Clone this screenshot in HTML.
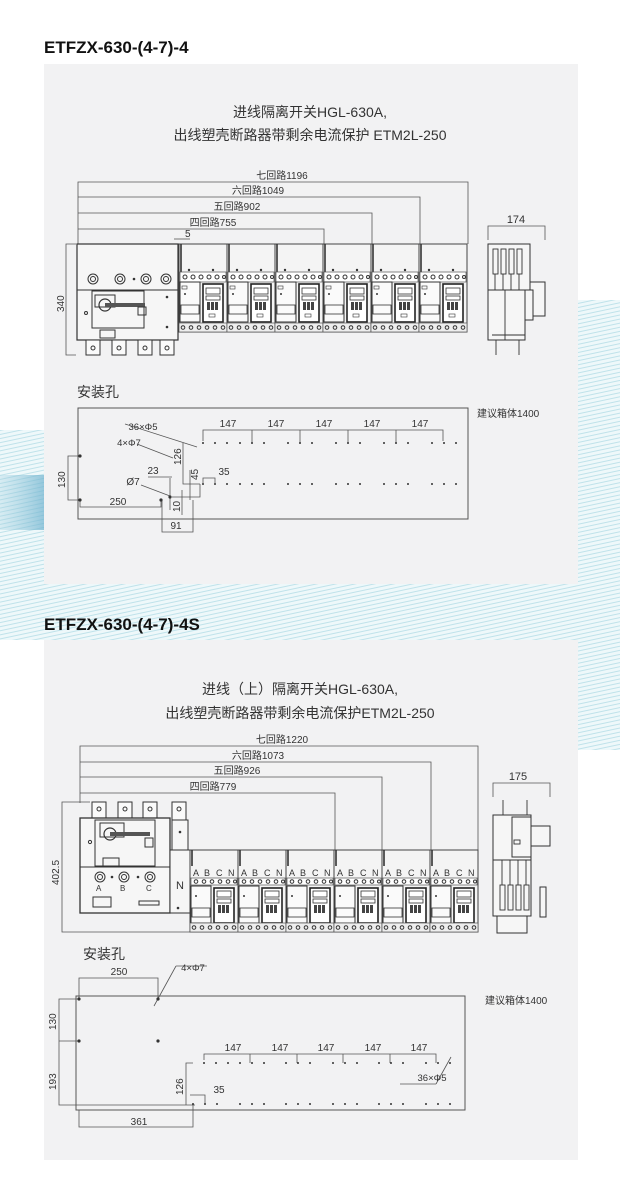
<!DOCTYPE html>
<html><head><meta charset="utf-8">
<style>
html,body{margin:0;padding:0;background:#fff;}
svg{display:block}
text{font-family:"Liberation Sans","Noto Sans CJK SC",sans-serif;fill:#333}
</style></head><body>
<svg width="620" height="1198" viewBox="0 0 620 1198" xmlns="http://www.w3.org/2000/svg">
<defs>
<linearGradient id="lb" x1="0" y1="0" x2="1" y2="0">
<stop offset="0" stop-color="#9fcfe0" stop-opacity="0.3"/><stop offset="1" stop-color="#6fb3cf" stop-opacity="0.7"/>
</linearGradient>
<pattern id="ln" width="6" height="4" patternUnits="userSpaceOnUse" patternTransform="rotate(-12)">
<rect width="6" height="4" fill="#eef8fa"/><line x1="0" y1="1" x2="6" y2="1" stroke="#bfe2ea" stroke-width="1"/>
</pattern>
<g id="m1">
<rect x="0" y="0" width="48" height="88" fill="#f4f4f4" stroke="#444" stroke-width="1"/>
<line x1="2" y1="0" x2="2" y2="28" stroke="#333" stroke-width="1.6"/>
<rect x="1" y="28" width="46" height="10" fill="#fff" stroke="#555" stroke-width="0.7"/>
<circle cx="6" cy="33" r="2" fill="none" stroke="#333"/><circle cx="14" cy="33" r="2" fill="none" stroke="#333"/><circle cx="22" cy="33" r="2" fill="none" stroke="#333"/><circle cx="30" cy="33" r="2" fill="none" stroke="#333"/><circle cx="38" cy="33" r="2" fill="none" stroke="#333"/><circle cx="45" cy="33" r="1.5" fill="none" stroke="#333"/>
<circle cx="10" cy="26" r="1.2" fill="#333"/><circle cx="34" cy="26" r="1.2" fill="#333"/>
<rect x="1" y="38" width="20" height="40" fill="#fafafa" stroke="#333" stroke-width="1"/>
<rect x="3" y="42" width="5" height="3" fill="none" stroke="#333" stroke-width="0.6"/>
<circle cx="6" cy="50" r="1" fill="#333"/>
<rect x="2" y="61" width="18" height="9" fill="none" stroke="#333" stroke-width="0.8"/>
<rect x="24" y="40" width="20" height="38" fill="#fff" stroke="#222" stroke-width="1.6"/>
<rect x="27" y="44" width="14" height="6" fill="none" stroke="#333" stroke-width="0.8"/>
<rect x="27" y="52" width="14" height="4" fill="none" stroke="#333" stroke-width="0.8"/>
<rect x="28" y="58" width="3" height="8" fill="#444"/><rect x="32" y="58" width="3" height="8" fill="#444"/><rect x="36" y="58" width="3" height="8" fill="#444"/>
<rect x="30" y="70" width="6" height="3" fill="none" stroke="#333" stroke-width="0.6"/>
<rect x="0" y="79" width="48" height="9" fill="#eee" stroke="#555" stroke-width="0.7"/>
<circle cx="4" cy="83.5" r="1.8" fill="none" stroke="#333"/><circle cx="12" cy="83.5" r="1.8" fill="none" stroke="#333"/><circle cx="20" cy="83.5" r="1.8" fill="none" stroke="#333"/><circle cx="28" cy="83.5" r="1.8" fill="none" stroke="#333"/><circle cx="36" cy="83.5" r="1.8" fill="none" stroke="#333"/><circle cx="44" cy="83.5" r="1.8" fill="none" stroke="#333"/>
</g>
<g id="m2">
<rect x="0" y="0" width="48" height="82" fill="#f4f4f4" stroke="#444" stroke-width="1"/>
<line x1="2" y1="0" x2="2" y2="16" stroke="#333" stroke-width="1.6"/>
<text x="3" y="26" font-size="9">A</text><text x="14" y="26" font-size="9">B</text><text x="26" y="26" font-size="9">C</text><text x="38" y="26" font-size="9">N</text>
<rect x="1" y="28" width="46" height="7" fill="#fff" stroke="#555" stroke-width="0.7"/>
<circle cx="6" cy="31.5" r="1.8" fill="none" stroke="#333"/><circle cx="14" cy="31.5" r="1.8" fill="none" stroke="#333"/><circle cx="22" cy="31.5" r="1.8" fill="none" stroke="#333"/><circle cx="30" cy="31.5" r="1.8" fill="none" stroke="#333"/><circle cx="38" cy="31.5" r="1.8" fill="none" stroke="#333"/><circle cx="45" cy="31.5" r="1.5" fill="none" stroke="#333"/>
<rect x="1" y="36" width="20" height="37" fill="#fafafa" stroke="#333" stroke-width="1"/>
<circle cx="6" cy="46" r="1" fill="#333"/>
<rect x="2" y="58" width="18" height="9" fill="none" stroke="#333" stroke-width="0.8"/>
<rect x="24" y="38" width="20" height="35" fill="#fff" stroke="#222" stroke-width="1.6"/>
<rect x="27" y="41" width="14" height="6" fill="none" stroke="#333" stroke-width="0.8"/>
<rect x="27" y="49" width="14" height="4" fill="none" stroke="#333" stroke-width="0.8"/>
<rect x="28" y="55" width="3" height="8" fill="#444"/><rect x="32" y="55" width="3" height="8" fill="#444"/><rect x="36" y="55" width="3" height="8" fill="#444"/>
<rect x="0" y="73" width="48" height="9" fill="#eee" stroke="#555" stroke-width="0.7"/>
<circle cx="4" cy="77.5" r="1.8" fill="none" stroke="#333"/><circle cx="12" cy="77.5" r="1.8" fill="none" stroke="#333"/><circle cx="20" cy="77.5" r="1.8" fill="none" stroke="#333"/><circle cx="28" cy="77.5" r="1.8" fill="none" stroke="#333"/><circle cx="36" cy="77.5" r="1.8" fill="none" stroke="#333"/><circle cx="44" cy="77.5" r="1.8" fill="none" stroke="#333"/>
</g>
<g id="dots">
<circle cx="0" cy="0" r="1" fill="#333"/><circle cx="12" cy="0" r="1" fill="#333"/><circle cx="24" cy="0" r="1" fill="#333"/>
</g>
</defs>

<!-- background waves -->
<rect x="0" y="430" width="44" height="190" fill="url(#ln)"/>
<rect x="0" y="475" width="44" height="55" fill="url(#lb)"/>
<rect x="578" y="300" width="42" height="450" fill="url(#ln)"/>
<rect x="0" y="584" width="620" height="56" fill="url(#ln)"/>

<!-- panels -->
<rect x="44" y="64" width="534" height="520" fill="#f2f2f3"/>
<rect x="44" y="640" width="534" height="520" fill="#f2f2f3"/>

<!-- titles -->
<text x="44" y="53" font-size="17" font-weight="bold" style="fill:#111">ETFZX-630-(4-7)-4</text>
<text x="44" y="630" font-size="17" font-weight="bold" style="fill:#111">ETFZX-630-(4-7)-4S</text>

<text x="310" y="117" font-size="14" text-anchor="middle">进线隔离开关HGL-630A,</text>
<text x="310" y="140" font-size="14" text-anchor="middle">出线塑壳断路器带剩余电流保护 ETM2L-250</text>

<text x="300" y="694" font-size="14" text-anchor="middle">进线（上）隔离开关HGL-630A,</text>
<text x="300" y="718" font-size="14" text-anchor="middle">出线塑壳断路器带剩余电流保护ETM2L-250</text>

<!-- ===== Diagram 1 ===== -->
<g stroke="#555" stroke-width="0.8" fill="none">
<polyline points="78,244 78,182 468,182 468,244"/>
<polyline points="78,197 420,197 420,244"/>
<polyline points="78,213 372,213 372,244"/>
<polyline points="78,229 324,229 324,244"/>
<polyline points="76,244 66,244 66,355 76,355"/>
<polyline points="488,240 488,226 545,226 545,240"/>
<line x1="174" y1="239" x2="190" y2="239"/>
</g>
<g font-size="10" text-anchor="middle">
<text x="282" y="179">七回路1196</text>
<text x="258" y="194">六回路1049</text>
<text x="237" y="210">五回路902</text>
<text x="213" y="226">四回路755</text>
<text x="185" y="237" text-anchor="start">5</text>
<text x="516" y="223" font-size="11">174</text>
</g>
<text x="0" y="0" font-size="10" transform="translate(64,312) rotate(-90)">340</text>

<!-- switch 1 -->
<rect x="77" y="244" width="101" height="96" fill="#f6f6f6" stroke="#333" stroke-width="1.2"/>
<line x1="77" y1="290" x2="178" y2="290" stroke="#333"/>
<circle cx="93" cy="279" r="5" fill="none" stroke="#333"/><circle cx="93" cy="279" r="2.5" fill="none" stroke="#333"/>
<circle cx="120" cy="279" r="5" fill="none" stroke="#333"/><circle cx="120" cy="279" r="2.5" fill="none" stroke="#333"/>
<circle cx="146" cy="279" r="5" fill="none" stroke="#333"/><circle cx="146" cy="279" r="2.5" fill="none" stroke="#333"/>
<circle cx="166" cy="279" r="5" fill="none" stroke="#333"/><circle cx="166" cy="279" r="2.5" fill="none" stroke="#333"/>
<circle cx="134" cy="279" r="1.3" fill="#333"/>
<rect x="92" y="291" width="52" height="37" fill="none" stroke="#333"/>
<rect x="95" y="295" width="20" height="12" fill="none" stroke="#333"/>
<circle cx="105" cy="305" r="6" fill="none" stroke="#333" stroke-width="1.2"/>
<rect x="105" y="303" width="40" height="4" fill="#555"/>
<rect x="138" y="307" width="8" height="8" fill="none" stroke="#333"/>
<rect x="100" y="330" width="15" height="8" fill="none" stroke="#333"/>
<circle cx="167" cy="297" r="1.3" fill="#333"/><circle cx="167" cy="327" r="1.3" fill="#333"/>
<circle cx="86" cy="313" r="1.5" fill="none" stroke="#333"/>
<g fill="#fafafa" stroke="#333">
<rect x="86" y="340" width="14" height="15"/><rect x="112" y="340" width="14" height="15"/><rect x="138" y="340" width="14" height="15"/><rect x="160" y="340" width="14" height="15"/>
</g>
<g fill="none" stroke="#333"><circle cx="93" cy="348" r="2"/><circle cx="119" cy="348" r="2"/><circle cx="145" cy="348" r="2"/><circle cx="167" cy="348" r="2"/></g>
<!-- modules 1 -->
<use href="#m1" x="179" y="244"/><use href="#m1" x="227" y="244"/><use href="#m1" x="275" y="244"/>
<use href="#m1" x="323" y="244"/><use href="#m1" x="371" y="244"/><use href="#m1" x="419" y="244"/>
<!-- side view 1 -->
<g fill="#f6f6f6" stroke="#333">
<rect x="488" y="244" width="42" height="46"/>
<rect x="488" y="290" width="37" height="50"/>
<rect x="530" y="282" width="15" height="34"/>
<rect x="525" y="290" width="8" height="30"/>
</g>
<g fill="none" stroke="#333" stroke-width="0.9">
<rect x="493" y="249" width="5" height="25"/><rect x="501" y="249" width="5" height="25"/><rect x="509" y="249" width="5" height="25"/><rect x="517" y="249" width="5" height="25"/>
<line x1="495" y1="274" x2="495" y2="290"/><line x1="503" y1="274" x2="503" y2="290"/><line x1="511" y1="274" x2="511" y2="290"/><line x1="519" y1="274" x2="519" y2="290"/>
<line x1="496" y1="340" x2="496" y2="355"/><line x1="519" y1="340" x2="519" y2="355"/>
<line x1="492" y1="335" x2="525" y2="335"/>
<line x1="505" y1="290" x2="505" y2="340"/>
</g>

<!-- mounting 1 -->
<text x="77" y="397" font-size="14">安装孔</text>
<rect x="78" y="408" width="390" height="111" fill="none" stroke="#555" stroke-width="1"/>
<text x="477" y="417" font-size="10">建议箱体1400</text>
<g stroke="#555" stroke-width="0.8" fill="none">
<polyline points="80,456 68,456 68,500 80,500"/>
<polyline points="80,500 80,507 161,507 161,500"/>
<polyline points="162,500 162,532 193,532 193,500"/>
<polyline points="183,443 183,484 200,484"/>
<polyline points="203,441 203,430 443,430 443,441"/>
<line x1="252" y1="430" x2="252" y2="443"/><line x1="300" y1="430" x2="300" y2="443"/><line x1="348" y1="430" x2="348" y2="443"/><line x1="396" y1="430" x2="396" y2="443"/>
<polyline points="203,483 203,478 215,478 215,483"/>
<line x1="148" y1="477" x2="172" y2="477"/>
<line x1="170" y1="478" x2="170" y2="510"/><line x1="182" y1="490" x2="182" y2="515"/>
<polyline points="172,497 200,497 200,484"/>
<line x1="190" y1="470" x2="190" y2="500"/>
<line x1="137" y1="444" x2="173" y2="458"/>
<line x1="125" y1="424" x2="197" y2="447"/>
<line x1="141" y1="485" x2="170" y2="496"/>
</g>
<circle cx="80" cy="456" r="1.6" fill="#333"/><circle cx="80" cy="500" r="1.6" fill="#333"/><circle cx="161" cy="500" r="1.6" fill="#333"/><circle cx="170" cy="497" r="1.6" fill="#333"/>
<use href="#dots" x="203" y="443"/><use href="#dots" x="240" y="443"/><use href="#dots" x="288" y="443"/><use href="#dots" x="336" y="443"/><use href="#dots" x="384" y="443"/><use href="#dots" x="432" y="443"/>
<use href="#dots" x="203" y="484"/><use href="#dots" x="240" y="484"/><use href="#dots" x="288" y="484"/><use href="#dots" x="336" y="484"/><use href="#dots" x="384" y="484"/><use href="#dots" x="432" y="484"/>
<g font-size="10" text-anchor="middle">
<text x="228" y="427">147</text><text x="276" y="427">147</text><text x="324" y="427">147</text><text x="372" y="427">147</text><text x="420" y="427">147</text>
<text x="143" y="430" font-size="9.5">36×Φ5</text>
<text x="129" y="446" font-size="9.5">4×Φ7</text>
<text x="153" y="474">23</text>
<text x="133" y="485">Ø7</text>
<text x="224" y="475">35</text>
<text x="118" y="505">250</text>
<text x="176" y="529">91</text>
</g>
<g font-size="10">
<text transform="translate(65,488) rotate(-90)">130</text>
<text transform="translate(181,465) rotate(-90)">126</text>
<text transform="translate(198,480) rotate(-90)">45</text>
<text transform="translate(180,512) rotate(-90)">10</text>
</g>

<!-- ===== Diagram 2 ===== -->
<g stroke="#555" stroke-width="0.8" fill="none">
<polyline points="80,803 80,746 478,746 478,850"/>
<polyline points="80,762 431,762 431,850"/>
<polyline points="80,777 382,777 382,850"/>
<polyline points="80,793 335,793 335,850"/>
<polyline points="90,802 62,802 62,932 190,932"/>
<polyline points="493,797 493,783 550,783 550,797"/>
</g>
<g font-size="10" text-anchor="middle">
<text x="282" y="743">七回路1220</text>
<text x="258" y="759">六回路1073</text>
<text x="237" y="774">五回路926</text>
<text x="213" y="790">四回路779</text>
<text x="518" y="780" font-size="11">175</text>
</g>
<text font-size="10" transform="translate(59,885) rotate(-90)">402.5</text>

<!-- switch 2 -->
<g fill="#fafafa" stroke="#333">
<rect x="92" y="802" width="14" height="18"/><rect x="118" y="802" width="14" height="18"/><rect x="143" y="802" width="14" height="18"/><rect x="172" y="802" width="14" height="20"/>
</g>
<g fill="none" stroke="#333"><circle cx="99" cy="809" r="2"/><circle cx="125" cy="809" r="2"/><circle cx="150" cy="809" r="2"/><circle cx="179" cy="809" r="2"/></g>
<rect x="80" y="818" width="90" height="95" fill="#f6f6f6" stroke="#333" stroke-width="1.3"/>
<line x1="80" y1="867" x2="170" y2="867" stroke="#333"/>
<rect x="95" y="820" width="60" height="46" fill="none" stroke="#333"/>
<rect x="100" y="823" width="24" height="14" fill="none" stroke="#333"/>
<circle cx="110" cy="834" r="6" fill="none" stroke="#333" stroke-width="1.2"/>
<rect x="110" y="832" width="40" height="4" fill="#555"/>
<rect x="145" y="838" width="8" height="9" fill="none" stroke="#333"/>
<rect x="103" y="858" width="16" height="8" fill="none" stroke="#333"/>
<circle cx="90" cy="842" r="1.6" fill="none" stroke="#333"/>
<g fill="none" stroke="#333"><circle cx="100" cy="877" r="5"/><circle cx="100" cy="877" r="2.5"/><circle cx="124" cy="877" r="5"/><circle cx="124" cy="877" r="2.5"/><circle cx="150" cy="877" r="5"/><circle cx="150" cy="877" r="2.5"/></g>
<circle cx="112" cy="877" r="1.3" fill="#333"/><circle cx="138" cy="877" r="1.3" fill="#333"/>
<text x="96" y="891" font-size="8">A</text><text x="120" y="891" font-size="8">B</text><text x="146" y="891" font-size="8">C</text>
<rect x="93" y="897" width="18" height="10" fill="none" stroke="#333"/>
<rect x="139" y="901" width="20" height="4" fill="none" stroke="#333"/>
<rect x="172" y="820" width="16" height="30" fill="#f6f6f6" stroke="#333"/>
<circle cx="180" cy="832" r="1.3" fill="#333"/>
<rect x="170" y="850" width="20" height="63" fill="#f6f6f6" stroke="#333"/>
<text x="176" y="889" font-size="11">N</text>
<circle cx="178" cy="908" r="1.3" fill="#333"/>
<!-- modules 2 -->
<use href="#m2" x="190" y="850"/><use href="#m2" x="238" y="850"/><use href="#m2" x="286" y="850"/>
<use href="#m2" x="334" y="850"/><use href="#m2" x="382" y="850"/><use href="#m2" x="430" y="850"/>
<!-- side view 2 -->
<g fill="#f6f6f6" stroke="#333">
<rect x="493" y="815" width="38" height="45"/>
<rect x="512" y="817" width="19" height="40"/>
<rect x="531" y="826" width="19" height="20"/>
<rect x="493" y="860" width="38" height="56"/>
<rect x="540" y="887" width="6" height="30"/>
<rect x="497" y="916" width="30" height="17"/>
</g>
<g fill="none" stroke="#333" stroke-width="0.9">
<line x1="503" y1="800" x2="503" y2="815"/><line x1="527" y1="800" x2="527" y2="815"/>
<rect x="500" y="885" width="5" height="25"/><rect x="508" y="885" width="5" height="25"/><rect x="516" y="885" width="5" height="25"/><rect x="524" y="885" width="5" height="25"/>
<line x1="502" y1="860" x2="502" y2="885"/><line x1="510" y1="860" x2="510" y2="885"/><line x1="518" y1="860" x2="518" y2="885"/><line x1="526" y1="860" x2="526" y2="885"/>
<rect x="514" y="840" width="6" height="4"/>
</g>

<!-- mounting 2 -->
<text x="83" y="959" font-size="14">安装孔</text>
<rect x="76" y="996" width="389" height="114" fill="none" stroke="#555" stroke-width="1"/>
<text x="485" y="1004" font-size="10">建议箱体1400</text>
<g stroke="#555" stroke-width="0.8" fill="none">
<polyline points="79,998 79,978 158,978 158,998"/>
<polyline points="79,999 59,999 59,1105 195,1105"/>
<line x1="59" y1="1041" x2="79" y2="1041"/>
<polyline points="79,1110 79,1127 193,1127 193,1105"/>
<polyline points="193,1063 186,1063 186,1105"/>
<polyline points="190,1095 205,1095 205,1104"/>
<polyline points="204,1060 204,1054 436,1054 436,1063"/>
<line x1="250" y1="1054" x2="250" y2="1063"/><line x1="297" y1="1054" x2="297" y2="1063"/><line x1="343" y1="1054" x2="343" y2="1063"/><line x1="390" y1="1054" x2="390" y2="1063"/>
<line x1="154" y1="1006" x2="176" y2="966"/><line x1="176" y1="966" x2="207" y2="966"/>
<line x1="436" y1="1084" x2="451" y2="1057"/><line x1="400" y1="1084" x2="436" y2="1084"/>
</g>
<circle cx="79" cy="999" r="1.6" fill="#333"/><circle cx="79" cy="1041" r="1.6" fill="#333"/><circle cx="158" cy="999" r="1.6" fill="#333"/><circle cx="158" cy="1041" r="1.6" fill="#333"/>
<use href="#dots" x="204" y="1063"/><use href="#dots" x="240" y="1063"/><use href="#dots" x="286" y="1063"/><use href="#dots" x="333" y="1063"/><use href="#dots" x="379" y="1063"/><use href="#dots" x="426" y="1063"/>
<use href="#dots" x="193" y="1104"/><use href="#dots" x="240" y="1104"/><use href="#dots" x="286" y="1104"/><use href="#dots" x="333" y="1104"/><use href="#dots" x="379" y="1104"/><use href="#dots" x="426" y="1104"/>
<g font-size="10" text-anchor="middle">
<text x="119" y="975">250</text>
<text x="193" y="971" font-size="9.5">4×Φ7</text>
<text x="233" y="1051">147</text><text x="280" y="1051">147</text><text x="326" y="1051">147</text><text x="373" y="1051">147</text><text x="419" y="1051">147</text>
<text x="432" y="1081" font-size="9.5">36×Φ5</text>
<text x="219" y="1093">35</text>
<text x="139" y="1125">361</text>
</g>
<g font-size="10">
<text transform="translate(56,1030) rotate(-90)">130</text>
<text transform="translate(56,1090) rotate(-90)">193</text>
<text transform="translate(183,1095) rotate(-90)">126</text>
</g>
</svg>
</body></html>
